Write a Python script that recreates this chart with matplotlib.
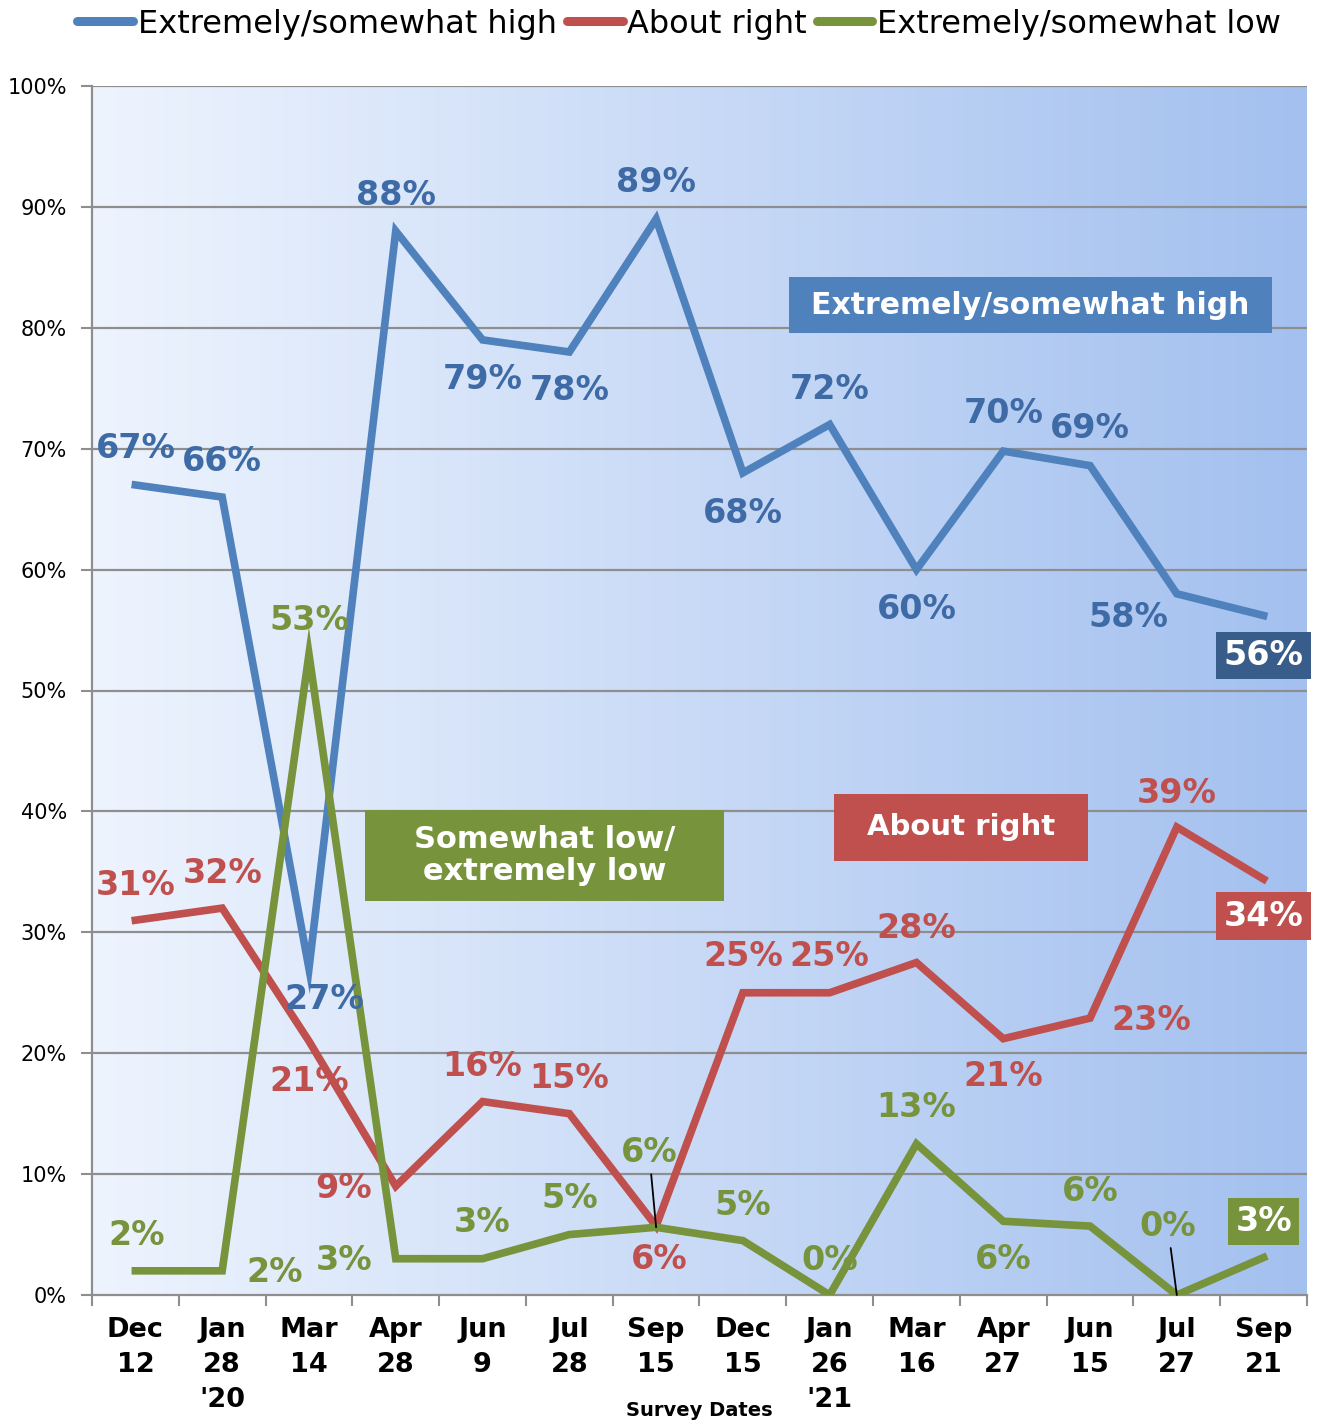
import matplotlib
matplotlib.use("Agg")
import matplotlib.pyplot as plt
import numpy as np
from matplotlib.colors import LinearSegmentedColormap
from matplotlib.patches import Rectangle

# données
dates = ["Dec\n12", "Jan\n28\n'20", "Mar\n14", "Apr\n28", "Jun\n9", "Jul\n28", "Sep\n15",
         "Dec\n15", "Jan\n26\n'21", "Mar\n16", "Apr\n27", "Jun\n15", "Jul\n27", "Sep\n21"]
high = [67, 66, 27, 88, 79, 78, 89, 68, 72, 60, 69.8, 68.6, 58, 56.2]
right = [31, 32, 21, 9, 16, 15, 5.7, 25, 25, 27.5, 21.2, 22.9, 38.7, 34.4]
low = [2, 2, 53, 3, 3, 5, 5.6, 4.5, 0, 12.5, 6.1, 5.7, 0, 3.1]
high_lbl = [67, 66, 27, 88, 79, 78, 89, 68, 72, 60, 70, 69, 58, 56]
right_lbl = [31, 32, 21, 9, 16, 15, 6, 25, 25, 28, 21, 23, 39, 34]
low_lbl = [2, 2, 53, 3, 3, 5, 6, 5, 0, 13, 6, 6, 0, 3]

BLUE, RED, GREEN = "#4f81bd", "#c0504d", "#77933c"
BLUE_TXT = "#3e6aa5"

# décalages des étiquettes en pixels (dx, dy vers le haut)
high_off = [(0, 36), (0, 36), (15, -31), (0, 36), (0, -40), (0, -39), (0, 36),
            (0, -41), (0, 35), (0, -40), (0, 38), (0, 37), (-48, -24), (0, -40)]
right_off = [(0, 35), (0, 35), (0, -40), (-52, -2), (0, 35), (0, 35), (3, -33),
             (0, 36), (0, 36), (0, 34), (0, -38), (61, -2), (0, 34), (0, -37)]
low_off = [(1, 35), (52, -2), (0, 34), (-52, -2), (0, 36), (0, 36), (-7, 75),
           (0, 35), (0, 35), (0, 36), (0, -38), (0, 35), (-9, 69), (0, 36)]
low_leader = [6, 12]

plt.rcParams['font.family'] = ['DejaVu Sans']
fig = plt.figure(figsize=(13.19, 14.23), dpi=100)
ax = fig.add_axes([92 / 1319, 128 / 1423, 1215 / 1319, 1209 / 1423])

x = np.arange(len(dates))
ax.set_xlim(-0.5, len(dates) - 0.5)
ax.set_ylim(0, 100)

# fond en dégradé
cmap = LinearSegmentedColormap.from_list("bg", ["#eef4fe", "#a3c0ef"])
ax.imshow(np.linspace(0, 1, 256).reshape(1, -1), cmap=cmap, aspect="auto",
          extent=(0, 1, 0, 1), transform=ax.transAxes, zorder=0)

for v in range(10, 101, 10):
    ax.axhline(v, color="#8e8e8e", lw=1.6, zorder=1)

ax.plot(x, high, color=BLUE, lw=5.5, solid_joinstyle="miter", zorder=3, label="Extremely/somewhat high")
ax.plot(x, right, color=RED, lw=5.5, solid_joinstyle="miter", zorder=3, label="About right")
ax.plot(x, low, color=GREEN, lw=5.5, solid_joinstyle="miter", zorder=4, label="Extremely/somewhat low")

px = 0.72  # points par pixel
LBL_FS = 24


def put_labels(vals, lbls, offs, color, box=None, leaders=()):
    for i, (v, l, (dx, dy)) in enumerate(zip(vals, lbls, offs)):
        kw = dict(textcoords="offset points", xytext=(dx * px, dy * px),
                  ha="center", va="center", fontsize=LBL_FS, fontweight="bold",
                  color=color, zorder=6)
        if box is not None and i == len(vals) - 1:
            kw["color"] = "white"
            kw["bbox"] = dict(boxstyle="square,pad=0.22", fc=box, ec="none")
        if i in leaders:
            kw["arrowprops"] = dict(arrowstyle="-", color="black", lw=1.3,
                                    shrinkA=2, shrinkB=0)
        ax.annotate(f"{l}%", (x[i], v), **kw)


put_labels(high, high_lbl, high_off, BLUE_TXT, box="#385d8a")
put_labels(right, right_lbl, right_off, RED, box=RED)
put_labels(low, low_lbl, low_off, GREEN, box=GREEN, leaders=low_leader)

# encadrés des séries
boxes = [((0.5737, 0.7957), 0.3975, 0.0463, BLUE, "Extremely/somewhat high", 21.5),
         ((0.6107, 0.3590), 0.2091, 0.0554, RED, "About right", 21),
         ((0.2247, 0.3259), 0.2955, 0.0753, GREEN, "Somewhat low/\nextremely low", 22)]
for (x0, y0), w, h, c, t, fs in boxes:
    ax.add_patch(Rectangle((x0, y0), w, h, transform=ax.transAxes, fc=c, ec="none", zorder=5))
    ax.text(x0 + w / 2, y0 + h / 2, t, transform=ax.transAxes, ha="center", va="center",
            color="white", fontsize=fs, fontweight="bold", linespacing=1.1, zorder=6)

# axes
ax.set_xticks(x)
ax.set_xticklabels(dates, fontsize=19.5, fontweight="bold", va="top", linespacing=1.45)
ax.set_xticks(np.arange(-0.5, len(dates)), minor=True)
ax.tick_params(axis="x", which="major", length=0, pad=16)
ax.tick_params(axis="x", which="minor", length=8, color="#8e8e8e", width=1.5)
ax.set_yticks(range(0, 101, 10))
ax.set_yticklabels([f"{v}%" for v in range(0, 101, 10)], fontsize=15)
ax.tick_params(axis="y", length=8, color="#8e8e8e", width=1.5, pad=10)
for s in ["top", "right"]:
    ax.spines[s].set_visible(False)
for s in ["left", "bottom"]:
    ax.spines[s].set_color("#8e8e8e")
    ax.spines[s].set_linewidth(1.6)

fig.text(699 / 1319, 1 - 1410 / 1423, "Survey Dates", ha="center", va="center",
         fontsize=14, fontweight="bold")

leg = fig.legend(loc="center", bbox_to_anchor=(0.515, 1 - 24 / 1423), ncol=3, frameon=False,
                 fontsize=23, handlelength=1.75, handletextpad=0.15, columnspacing=0.3)
for h in leg.get_lines():
    h.set_linewidth(6.5)
    h.set_solid_capstyle("round")

fig.savefig("out.png", dpi=100)
